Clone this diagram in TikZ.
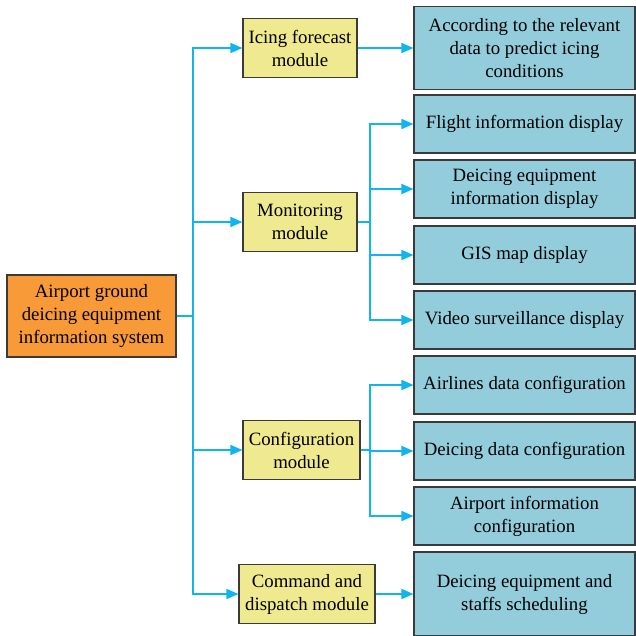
\documentclass[tikz,border=0pt]{standalone}
\usepackage{fontspec}
\setmainfont{Liberation Serif}
\usetikzlibrary{arrows.meta}
\definecolor{rootfill}{HTML}{F99A38}
\definecolor{modfill}{HTML}{EFE98F}
\definecolor{leaffill}{HTML}{93CDDC}
\definecolor{linkcol}{HTML}{12B4EE}
\definecolor{edgecol}{HTML}{3A3A3A}
\begin{document}
\begin{tikzpicture}[x=1pt,y=-1pt,
  box/.style={draw=edgecol, line width=1.1pt, align=center, inner sep=0pt,
    font=\fontsize{18.8}{23}\selectfont},
  rootbox/.style={box, fill=rootfill, minimum width=169pt, minimum height=82pt},
  modbox/.style={box, fill=modfill, minimum height=59pt},
  leafbox/.style={box, fill=leaffill, minimum width=221pt, minimum height=58pt},
  link/.style={draw=linkcol, line width=1.6pt, -{Triangle[length=12pt,width=10pt]}},
  plain/.style={draw=linkcol, line width=1.6pt}]
\useasboundingbox (0,0) rectangle (636,635);

% root
\node[rootbox] (root) at (91.5,316) {Airport ground\\deicing equipment\\information system};

% modules
\node[modbox, minimum width=114pt] (ice) at (300,48) {Icing forecast\\module};
\node[modbox, minimum width=114pt] (mon) at (300,222) {Monitoring\\module};
\node[modbox, minimum width=117pt] (cfg) at (301.5,450) {Configuration\\module};
\node[modbox, minimum width=136pt] (cmd) at (307,594) {Command and\\dispatch module};

% leaves
\node[leafbox, minimum height=83pt] (l1) at (524.5,48) {According to the relevant\\data to predict icing\\conditions};
\node[leafbox] (l2) at (524.5,124) {Flight information display};
\node[leafbox] (l3) at (524.5,189) {Deicing equipment\\information display};
\node[leafbox] (l4) at (524.5,255) {GIS map display};
\node[leafbox] (l5) at (524.5,320) {Video surveillance display};
\node[leafbox] (l6) at (524.5,385) {Airlines data configuration};
\node[leafbox] (l7) at (524.5,451) {Deicing data configuration};
\node[leafbox] (l8) at (524.5,516) {Airport information\\configuration};
\node[leafbox, minimum height=84pt] (l9) at (524.5,594) {Deicing equipment and\\staffs scheduling};

% trunk from the root to each module
\coordinate (trunk) at (193,316);
\draw[plain] (root.east) -- (trunk);
\foreach \m in {ice,mon,cfg,cmd}
  \draw[link] (trunk) |- (\m.west);

% module branches
\draw[link] (ice.east) -- (l1.west);
\coordinate (monfork) at (370,222);
\draw[plain] (mon.east) -- (monfork);
\foreach \l in {l2,l3,l4,l5}
  \draw[link] (monfork) |- (\l.west);
\coordinate (cfgfork) at (370,450);
\draw[plain] (cfg.east) -- (cfgfork);
\foreach \l in {l6,l7,l8}
  \draw[link] (cfgfork) |- (\l.west);
\draw[link] (cmd.east) -- (l9.west);
\end{tikzpicture}
\end{document}
